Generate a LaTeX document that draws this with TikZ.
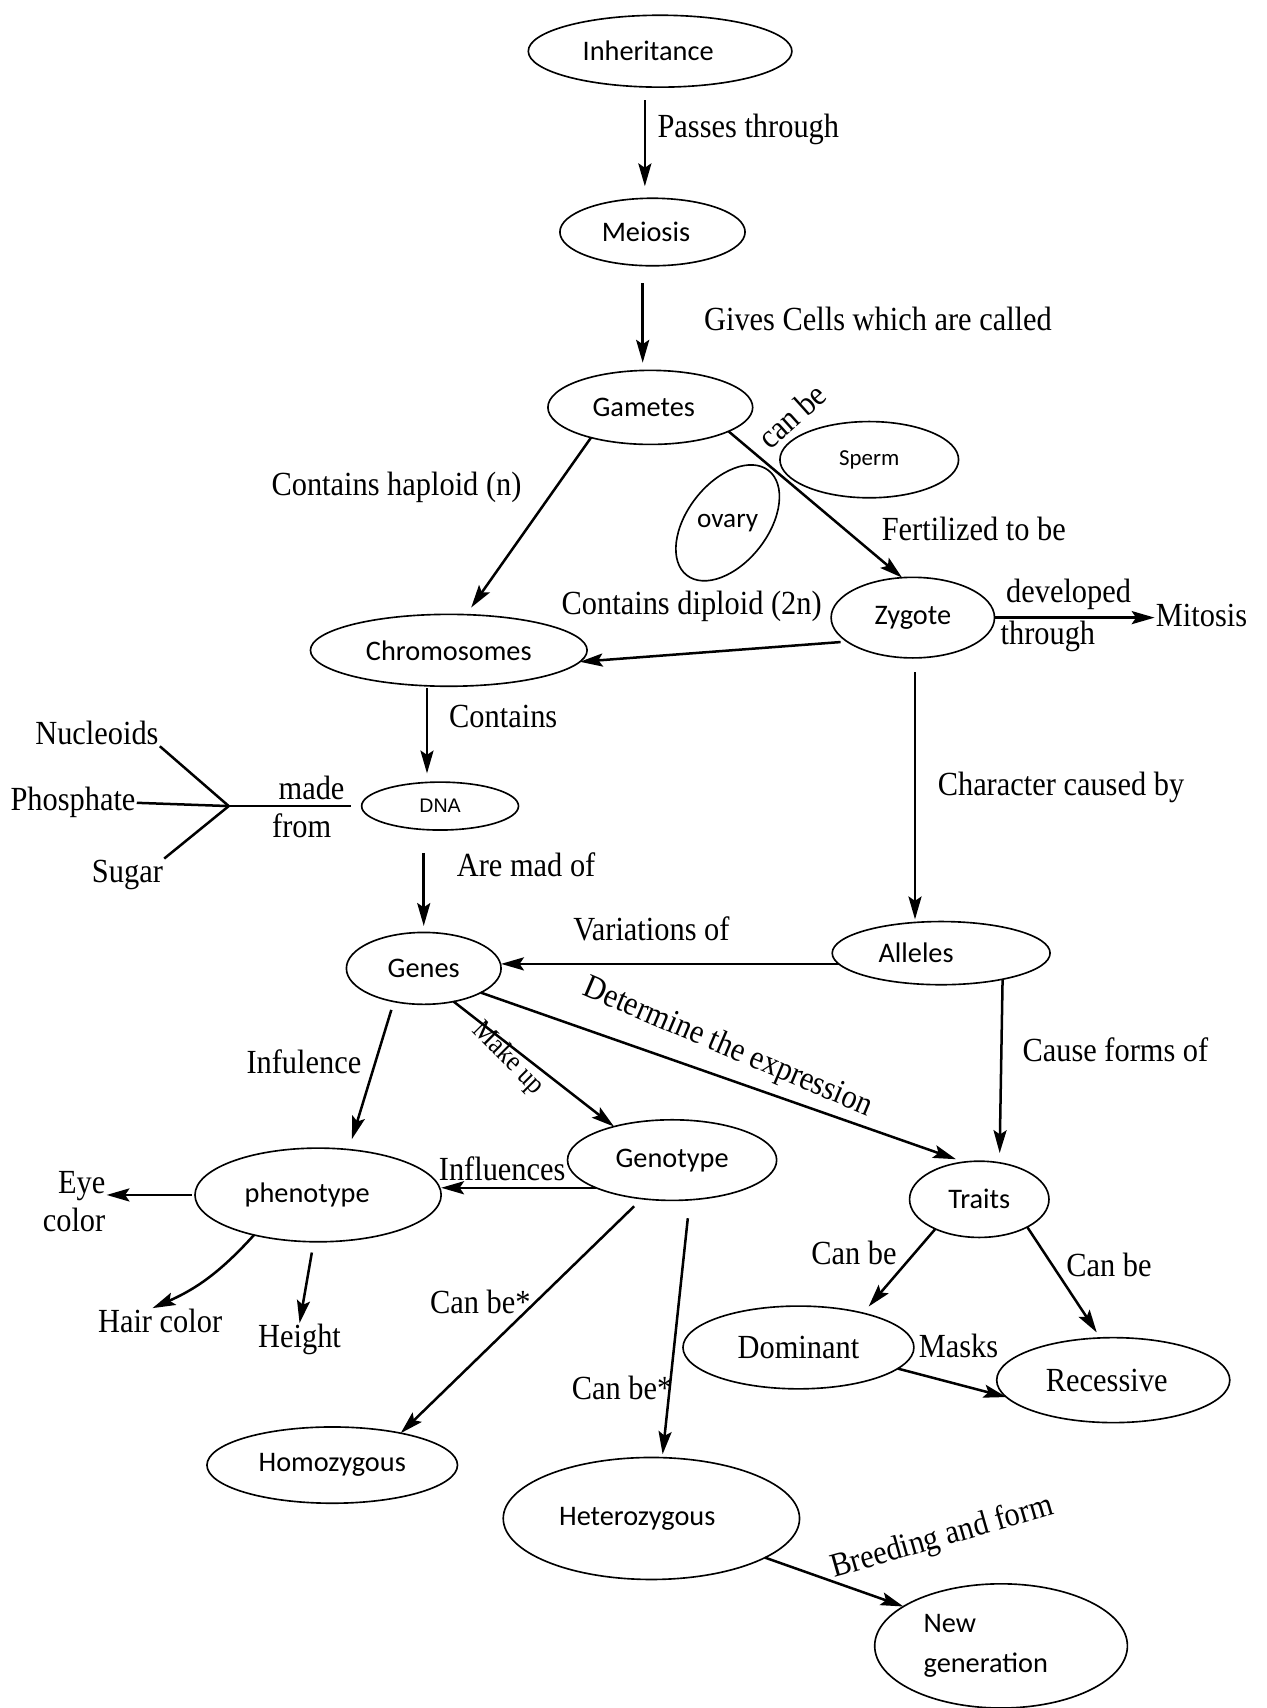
\documentclass[tikz,border=0pt]{standalone}
\usepackage{fontspec}
\setmainfont{Liberation Serif}[FakeStretch=0.9]
\newfontfamily\nodefont{Carlito}
\newfontfamily\dnafont{Liberation Sans}
\usetikzlibrary{shapes.geometric,arrows.meta}

\tikzset{
  concept/.style={ellipse,draw,line width=1.5pt,inner sep=0pt,outer sep=0pt,
    font=\nodefont\fontsize{26}{30}\selectfont},
  tag/.style={font=\fontsize{31}{35}\selectfont,inner sep=1pt},
  arr/.style={line width=2.3pt,-{Stealth[length=21pt,width=12pt,inset=4pt]}},
  stem/.style={line width=2.3pt},
}

\begin{document}
\begin{tikzpicture}[x=1pt,y=-1pt]
  \useasboundingbox (0,0) rectangle (1163,1568);

  % concepts
  \node[concept,minimum width=242pt,minimum height=66pt] (inh) at (606,47) {Inheritance\hspace*{22pt}};
  \node[concept,minimum width=170pt,minimum height=62pt] (mei) at (599,213) {Meiosis\hspace*{12pt}};
  \node[concept,minimum width=188pt,minimum height=68pt] (gam) at (597,374) {Gametes\hspace*{12pt}};
  \node[concept,minimum width=164pt,minimum height=70pt,
    font=\nodefont\fontsize{21}{24}\selectfont] (spe) at (798,422) {Sperm};
  \node[font=\nodefont\fontsize{25}{28}\selectfont] (ova) at (668,480) {ovary};
  \draw[line width=1.5pt,rotate around={52:(ova.center)}] (ova.center) ellipse (61 and 37);
  \node[concept,minimum width=150pt,minimum height=74pt] (zyg) at (838,567) {Zygote};
  \node[tag] (mit) at (1103,565) {Mitosis};
  \node[concept,minimum width=254pt,minimum height=66pt] (chr) at (412,597) {Chromosomes};
  \node[concept,minimum width=144pt,minimum height=44pt,
    font=\dnafont\fontsize{18}{20}\selectfont] (dna) at (404,740) {DNA};
  \node[concept,minimum width=142pt,minimum height=66pt] (gen) at (389,889) {Genes};
  \node[concept,minimum width=200pt,minimum height=58pt] (all) at (864,875) {Alleles\hspace*{46pt}};
  \node[concept,minimum width=192pt,minimum height=74pt] (gty) at (617,1065) {Genotype};
  \node[concept,minimum width=226pt,minimum height=86pt] (phe) at (292,1097) {phenotype\hspace*{20pt}};
  \node[concept,minimum width=128pt,minimum height=70pt] (trt) at (899,1101) {Traits};
  \node[concept,minimum width=212pt,minimum height=76pt,
    font=\fontsize{31}{35}\selectfont] (dom) at (733,1237) {Dominant};
  \node[concept,minimum width=214pt,minimum height=78pt,
    font=\fontsize{31}{35}\selectfont] (rec) at (1022,1267) {Recessive\hspace*{12pt}};
  \node[concept,minimum width=230pt,minimum height=70pt] (hom) at (305,1345) {Homozygous};
  \node[concept,minimum width=272pt,minimum height=112pt] (het) at (598,1394) {Heterozygous\hspace*{26pt}};
  \node[concept,minimum width=232pt,minimum height=114pt,align=left,
    font=\nodefont\fontsize{26}{37}\selectfont] (gnr) at (919,1511) {New\\generation\hspace*{28pt}};

  % plain texts
  \foreach \nm/\px/\py/\txt in {lpass/687/119/Passes through, lgive/806/293/Gives Cells which are called,
      lfert/894/486/Fertilized to be, lhap/364/447/Contains haploid (n),
      ldip/635/557/Contains diploid (2n), ldev/981/546/developed, lthr/962/584/through,
      lcont/462/658/Contains, nuc/89/673/Nucleoids, pho/67/737/Phosphate, sug/117/803/Sugar,
      lmade/286/723/made, lfrom/277/758/from, lmad/483/794/Are mad of,
      lchar/974/723/Character caused by, lvar/598/853/Variations of,
      lcause/1024/964/Cause forms of, linf/279/975/Infulence, linfl/461/1073/Influences,
      hair/147/1213/Hair color, hgt/275/1230/Height, lcba/441/1195/Can be*,
      lcbb/571/1274/Can be*, lcbc/784/1150/Can be, lcbd/1018/1161/Can be, lmask/880/1236/Masks}
    \node[tag] (\nm) at (\px,\py) {\txt};
  \node[tag,align=right] (eye) at (68,1103) {Eye\\color};
  \node[tag,rotate=42] (lcan) at (727,382) {can be};
  \node[tag,rotate=-23] (ldet) at (668,962) {Determine the expression};
  \node[tag,rotate=-45,font=\fontsize{26}{30}\selectfont] (lmake) at (466,972) {Make up};
  \node[tag,rotate=16] (lbreed) at (865,1412) {Breeding and form};

  % made from
  \coordinate (jn) at (210,740);
  \foreach \src in {nuc.south east, pho.east, sug.north east}
    \draw[stem] (\src) -- (jn);
  \draw[stem,shorten >=10pt] (jn) -- (dna.west);

  % arrows
  \draw[arr,shorten <=12pt,shorten >=11pt] ([xshift=-14pt]inh.south) -- ([xshift=-7pt]mei.north);
  \draw[arr,shorten <=16pt,shorten >=7pt] ([xshift=-9pt]mei.south) -- ([xshift=-7pt]gam.north);
  \draw[arr] (gam.-17) -- (zyg.105);
  \draw[arr,shorten >=8pt] (gam.207) -- (chr.64);
  \draw[arr,shorten <=6pt] (zyg.200) -- (chr.-5);
  \draw[arr] (zyg.east) -- (zyg.east -| mit.west);
  \draw[arr,shorten <=2pt,shorten >=8pt] ([xshift=-20pt]chr.south) -- ([xshift=-12pt]dna.north);
  \draw[arr,shorten <=21pt,shorten >=6pt] ([xshift=-15pt]dna.south) -- (gen.north);
  \draw[arr,shorten <=13pt,shorten >=2pt] ([xshift=2pt]zyg.south) -- ([xshift=-24pt]all.north);
  \draw[arr] (all.186) -- (all.186 -| gen.east);
  \draw[arr,shorten >=9pt] (all.-23) -- (trt.61);
  \draw[arr,shorten >=8pt] (gen.-23) -- (trt.112);
  \draw[arr] (gen.-48) -- (gty.150);
  \draw[arr,shorten <=8pt,shorten >=10pt] (gen.228) -- (phe.56);
  \draw[arr] (gty.200) -- (gty.200 -| phe.east);
  \draw[arr,shorten <=3pt] (phe.west) -- (phe.west -| eye.east);
  \draw[arr] (phe.212) to[bend left=12] ([xshift=-7pt]hair.north);
  \draw[arr,shorten <=10pt] ([xshift=-4pt]phe.south) -- (hgt.north);
  \draw[arr,shorten <=10pt] (gty.232) -- (hom.25);
  \draw[arr,shorten <=17pt,shorten >=3pt] (gty.-66) -- ([xshift=10pt]het.north);
  \draw[arr,shorten >=8pt] (trt.214) -- (dom.28);
  \draw[arr,shorten >=6pt] (trt.-30) -- (rec.107);
  \draw[arr] (dom.-12) -- (rec.189);
  \draw[arr] (het.-19) -- (gnr.158);
\end{tikzpicture}
\end{document}
